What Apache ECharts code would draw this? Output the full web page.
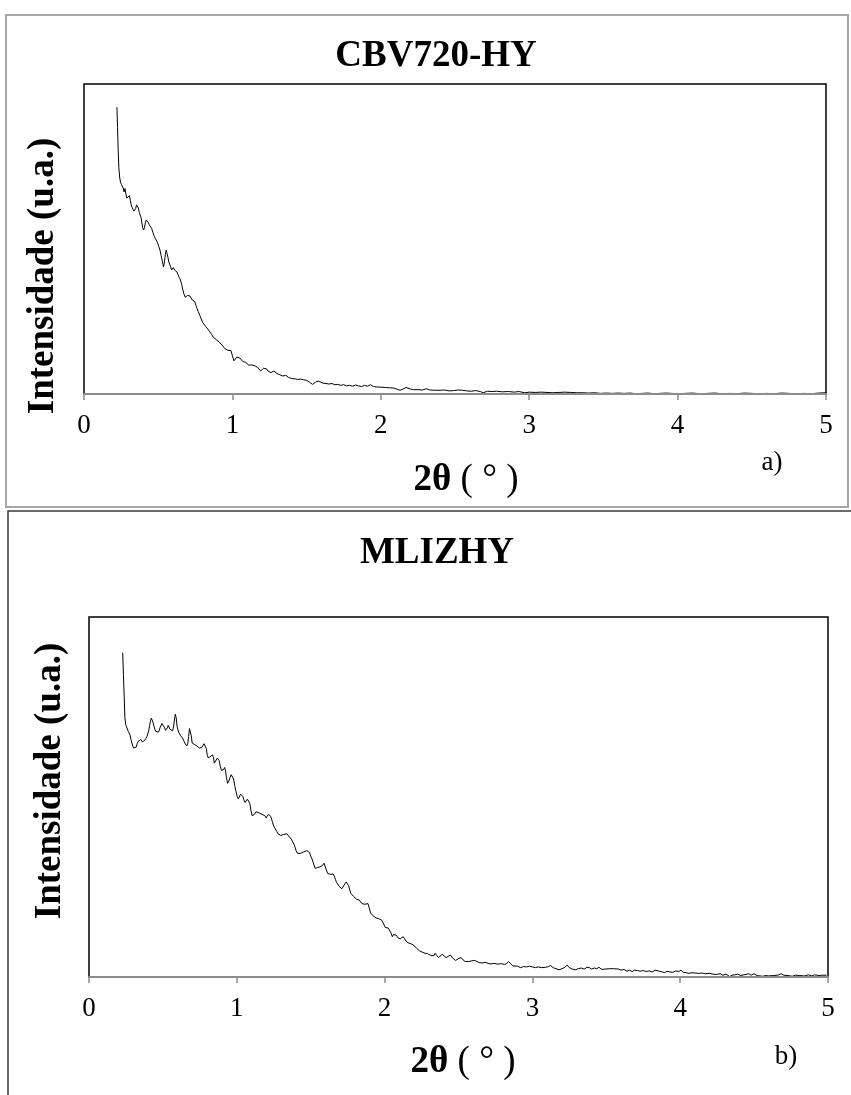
<!DOCTYPE html>
<html>
<head>
<meta charset="utf-8">
<title>DRX baixo ângulo</title>
<script src="https://cdn.jsdelivr.net/npm/echarts@6/dist/echarts.min.js"></script>
<style>
  html, body { margin: 0; padding: 0; background: #fff; }
  #chart { width: 851px; height: 1095px; }
</style>
</head>
<body>
<div id="chart"></div>
<script>
// Low-angle XRD scans: [2θ (°), intensity (a.u.)]
const scanCBV720 = [
  [0.222,92.5],[0.226,86],[0.230,79],[0.235,73],[0.240,70],[0.246,68.3],[0.252,67.6],[0.258,67.9],[0.264,66.4],[0.270,65.2],
  [0.276,66.3],[0.282,64.6],[0.288,63.2],[0.294,62.9],[0.300,63.5],[0.306,64.0],[0.312,62.5],[0.318,61.0],[0.324,60.2],[0.330,59.6],
  [0.336,59.0],[0.342,58.8],[0.348,59.8],[0.354,61.0],[0.360,61.2],[0.366,60.0],[0.372,58.6],[0.378,58.2],[0.384,57.0],[0.390,55.2],
  [0.396,53.6],[0.402,52.9],[0.408,53.8],[0.414,55.4],[0.420,56.1],[0.426,56.0],[0.432,55.4],[0.440,54.6],[0.448,54.0],[0.456,53.4],
  [0.464,52.2],[0.472,51.0],[0.480,50.2],[0.488,49.6],[0.496,48.8],[0.504,47.6],[0.512,46.4],[0.520,44.6],[0.528,42.8],[0.536,41.0],
  [0.542,42.6],[0.548,45.0],[0.554,46.4],[0.560,46.0],[0.566,44.0],[0.572,42.5],[0.578,42.2],[0.584,41.0],[0.590,40.0],[0.596,40.6],
  [0.602,40.8],[0.610,40.0],[0.618,39.8],[0.626,39.4],[0.634,38.4],[0.642,37.6],[0.650,36.8],[0.658,35.4],[0.666,33.6],[0.674,32.2],
  [0.682,31.2],[0.690,30.9],[0.698,31.8],[0.706,31.4],[0.714,31.6],[0.722,31.0],[0.730,30.3],[0.738,30.5],[0.746,29.8],[0.754,28.6],
  [0.762,27.6],[0.770,26.6],[0.780,25.4],[0.790,24.2],[0.800,23.0],[0.810,22.4],[0.820,21.8],[0.830,21.2],[0.840,20.6],[0.850,20.2],
  [0.860,19.2],[0.870,18.4],[0.880,17.8],[0.890,17.6],[0.900,17.2],[0.910,16.8],[0.920,16.6],[0.930,15.8],[0.940,15.2],[0.950,14.6],
  [0.960,14.3],[0.970,14.1],[0.980,14.6],[0.990,14.0],[1.000,12.4],[1.010,10.7],[1.020,11.0],[1.030,11.9],[1.040,11.8],[1.050,11.6],
  [1.060,11.0],[1.070,10.5],[1.080,10.7],[1.090,10.2],[1.100,9.6],[1.110,9.3],[1.120,9.0],[1.130,9.4],[1.140,9.6],[1.150,9.1],
  [1.160,8.8],[1.170,8.6],[1.180,8.0],[1.190,7.4],[1.200,7.8],[1.210,8.3],[1.220,8.5],[1.230,8.1],[1.240,7.4],[1.250,7.0],
  [1.260,6.9],[1.270,7.2],[1.280,7.4],[1.290,7.0],[1.300,6.6],[1.310,6.4],[1.320,6.2],[1.330,6.0],[1.340,5.8],[1.350,6.2],
  [1.360,6.0],[1.370,5.6],[1.380,5.3],[1.390,5.2],[1.400,5.0],[1.420,4.9],[1.440,4.7],[1.460,4.8],[1.480,4.6],[1.500,4.4],
  [1.520,3.8],[1.540,3.1],[1.560,3.8],[1.577,4.2],[1.590,3.8],[1.610,3.5],[1.630,3.4],[1.650,3.2],[1.670,3.4],[1.690,3.0],
  [1.710,3.1],[1.730,2.8],[1.750,3.0],[1.770,2.6],[1.790,2.8],[1.810,2.5],[1.830,2.9],[1.850,2.6],[1.870,2.4],[1.890,2.8],
  [1.910,2.5],[1.930,3.0],[1.950,2.4],[1.970,2.3],[2.000,2.2],[2.030,2.1],[2.060,2.0],[2.090,1.9],[2.110,1.5],[2.130,1.2],
  [2.150,1.6],[2.170,2.1],[2.180,2.4],[2.200,1.6],[2.220,1.4],[2.250,1.4],[2.280,1.3],[2.310,1.7],[2.330,1.3],[2.360,1.2],
  [2.400,1.2],[2.430,1.3],[2.460,1.0],[2.490,1.1],[2.520,1.3],[2.550,1.2],[2.580,1.0],[2.610,0.9],[2.640,1.1],[2.670,0.8],
  [2.690,0.4],[2.720,0.9],[2.750,0.8],[2.780,0.9],[2.820,0.7],[2.860,0.8],[2.900,0.6],[2.930,0.8],[2.970,0.4],[3.000,0.6],
  [3.040,0.5],[3.080,0.6],[3.120,0.5],[3.160,0.4],[3.200,0.5],[3.240,0.6],[3.280,0.5],[3.320,0.4],[3.360,0.4],[3.400,0.3],
  [3.440,0.4],[3.480,0.2],[3.520,0.3],[3.560,0.2],[3.600,0.3],[3.640,0.2],[3.680,0.3],[3.720,0.1],[3.760,0.2],[3.800,0.3],
  [3.840,0.1],[3.880,0.2],[3.920,0.3],[3.960,0.2],[4.000,0.1],[4.050,0.2],[4.100,0.3],[4.150,0.1],[4.200,0.2],[4.250,0.3],
  [4.300,0.1],[4.350,0.2],[4.400,0.1],[4.450,0.3],[4.500,0.2],[4.550,0.1],[4.600,0.2],[4.650,0.1],[4.700,0.3],[4.750,0.2],
  [4.800,0.1],[4.850,0.2],[4.900,0.1],[4.950,0.3],[5.000,0.4]
];

const scanMLIZHY = [
  [0.228,90.1],[0.233,84],[0.238,78],[0.243,72],[0.248,70.2],[0.254,69.5],[0.260,69.0],[0.266,68.2],[0.272,68.6],[0.278,67.2],
  [0.284,66.0],[0.290,65.0],[0.296,64.2],[0.302,63.6],[0.308,63.4],[0.314,63.5],[0.320,63.9],[0.326,64.8],[0.332,65.4],[0.338,65.1],
  [0.344,65.6],[0.350,66.0],[0.356,65.8],[0.362,65.3],[0.368,65.0],[0.374,65.4],[0.380,65.9],[0.386,66.3],[0.392,66.8],[0.398,67.3],
  [0.404,68.4],[0.410,69.8],[0.416,71.2],[0.422,71.9],[0.428,71.6],[0.434,70.6],[0.440,69.6],[0.446,68.8],[0.452,68.2],[0.458,68.0],
  [0.464,68.4],[0.470,68.0],[0.476,68.6],[0.482,69.4],[0.488,69.9],[0.494,70.4],[0.500,70.7],[0.506,70.2],[0.512,69.2],[0.518,68.5],
  [0.524,68.6],[0.530,69.2],[0.536,69.9],[0.542,69.6],[0.548,68.8],[0.554,68.5],[0.560,68.7],[0.566,68.4],[0.572,69.5],[0.578,71.4],
  [0.584,73.0],[0.590,72.0],[0.596,69.6],[0.602,68.6],[0.608,67.9],[0.614,67.4],[0.620,67.0],[0.626,66.6],[0.632,66.4],[0.638,66.0],
  [0.644,65.4],[0.650,64.8],[0.656,64.4],[0.662,64.2],[0.668,64.8],[0.674,66.8],[0.680,69.0],[0.686,69.4],[0.692,67.0],[0.698,65.0],
  [0.704,64.6],[0.710,64.8],[0.716,64.5],[0.722,64.4],[0.730,64.2],[0.738,64.0],[0.746,63.6],[0.754,63.5],[0.762,63.7],[0.770,64.2],
  [0.778,64.8],[0.786,65.0],[0.794,63.4],[0.800,61.6],[0.806,60.9],[0.812,60.6],[0.820,61.2],[0.828,61.0],[0.836,61.7],[0.842,61.0],
  [0.848,59.4],[0.854,59.2],[0.860,59.8],[0.868,60.8],[0.874,61.2],[0.880,60.2],[0.888,58.6],[0.896,57.4],[0.902,57.1],[0.910,57.6],
  [0.918,58.2],[0.924,57.2],[0.930,55.4],[0.938,53.8],[0.946,54.4],[0.954,55.4],[0.962,56.2],[0.970,56.1],[0.978,55.0],[0.986,53.2],
  [0.994,51.6],[1.002,50.2],[1.010,49.5],[1.018,49.8],[1.026,50.8],[1.032,51.0],[1.040,50.2],[1.048,49.2],[1.056,48.5],[1.064,48.8],
  [1.072,49.4],[1.080,49.5],[1.088,48.2],[1.096,46.2],[1.104,44.8],[1.112,44.6],[1.120,45.2],[1.130,45.9],[1.140,45.9],[1.150,45.6],
  [1.160,45.4],[1.170,45.2],[1.180,45.4],[1.190,44.8],[1.198,44.2],[1.206,44.4],[1.214,45.2],[1.222,45.4],[1.230,44.6],[1.240,43.2],
  [1.250,41.9],[1.260,41.2],[1.270,40.4],[1.278,39.8],[1.288,39.5],[1.298,39.3],[1.308,39.4],[1.318,39.6],[1.330,39.8],[1.340,39.8],
  [1.350,39.2],[1.360,38.8],[1.370,38.2],[1.380,37.8],[1.390,36.6],[1.400,35.2],[1.410,34.4],[1.418,34.2],[1.428,34.3],[1.440,34.5],
  [1.450,34.7],[1.462,34.9],[1.474,35.1],[1.484,35.2],[1.492,34.6],[1.500,33.6],[1.510,32.7],[1.520,31.4],[1.530,30.2],[1.538,30.1],
  [1.546,30.4],[1.556,30.5],[1.564,30.6],[1.572,30.4],[1.580,31.0],[1.590,31.6],[1.598,31.2],[1.606,29.8],[1.614,28.8],[1.622,28.6],
  [1.632,28.5],[1.642,28.6],[1.652,28.6],[1.660,28.0],[1.668,27.0],[1.676,26.2],[1.684,25.8],[1.692,25.2],[1.700,24.8],[1.711,24.5],
  [1.720,25.0],[1.730,25.8],[1.740,26.4],[1.748,26.5],[1.756,25.4],[1.764,24.2],[1.772,23.2],[1.780,22.8],[1.790,22.4],[1.800,21.9],
  [1.810,21.6],[1.820,21.6],[1.828,21.4],[1.836,21.0],[1.846,20.4],[1.857,19.9],[1.866,20.2],[1.876,20.4],[1.887,20.4],[1.896,19.2],
  [1.905,17.8],[1.913,17.3],[1.922,17.0],[1.932,16.8],[1.942,16.4],[1.950,16.3],[1.960,16.2],[1.970,16.0],[1.980,15.8],[1.990,15.0],
  [2.004,13.8],[2.014,14.2],[2.024,13.6],[2.034,13.3],[2.044,12.2],[2.052,11.2],[2.060,11.8],[2.070,12.2],[2.080,11.6],[2.090,10.9],
  [2.096,10.7],[2.106,10.6],[2.116,10.9],[2.126,11.2],[2.136,10.6],[2.144,10.0],[2.150,9.7],[2.160,9.5],[2.170,9.3],[2.180,9.2],
  [2.188,9.2],[2.198,8.8],[2.208,8.4],[2.218,7.9],[2.225,7.7],[2.235,7.3],[2.245,7.0],[2.260,6.8],[2.275,6.6],[2.290,6.5],
  [2.300,6.4],[2.312,6.0],[2.324,5.6],[2.333,5.9],[2.342,6.6],[2.352,6.0],[2.364,5.4],[2.376,5.7],[2.390,6.3],[2.402,5.9],
  [2.416,5.4],[2.430,5.7],[2.445,6.1],[2.460,5.3],[2.470,4.8],[2.480,4.6],[2.490,4.9],[2.504,5.2],[2.518,5.4],[2.530,4.8],
  [2.545,4.3],[2.555,4.1],[2.570,4.3],[2.590,4.5],[2.610,4.6],[2.625,4.3],[2.640,4.0],[2.665,3.9],[2.680,4.1],[2.700,3.8],
  [2.720,3.6],[2.740,3.8],[2.760,3.6],[2.775,3.6],[2.790,3.7],[2.810,3.5],[2.825,3.7],[2.838,4.3],[2.850,3.8],[2.867,3.1],
  [2.880,3.3],[2.900,3.0],[2.920,2.6],[2.940,2.9],[2.960,2.8],[2.980,3.0],[3.000,2.8],[3.020,2.6],[3.040,2.8],[3.060,2.6],
  [3.070,2.6],[3.090,2.7],[3.110,2.9],[3.124,3.2],[3.140,2.6],[3.160,2.3],[3.180,2.0],[3.200,2.3],[3.220,2.7],[3.234,3.3],
  [3.250,2.6],[3.270,2.2],[3.290,2.0],[3.310,2.3],[3.330,2.5],[3.350,2.2],[3.370,2.7],[3.385,2.6],[3.400,2.2],[3.420,2.5],
  [3.436,2.3],[3.450,2.7],[3.470,2.1],[3.490,2.2],[3.520,2.3],[3.550,2.3],[3.583,2.2],[3.600,1.9],[3.620,2.1],[3.640,1.6],
  [3.656,1.9],[3.675,1.5],[3.690,1.9],[3.710,1.8],[3.730,1.6],[3.750,1.8],[3.770,1.5],[3.790,1.7],[3.810,1.4],[3.830,1.9],
  [3.840,2.2],[3.860,1.6],[3.880,1.4],[3.895,1.2],[3.910,1.6],[3.930,1.4],[3.950,1.3],[3.970,1.7],[3.990,1.5],[4.005,1.9],
  [4.020,1.3],[4.040,1.2],[4.060,1.0],[4.080,1.2],[4.100,1.1],[4.130,1.0],[4.150,1.1],[4.170,0.9],[4.200,1.0],[4.220,0.8],
  [4.244,0.7],[4.270,0.9],[4.290,0.5],[4.310,0.8],[4.335,0.1],[4.350,0.5],[4.370,0.6],[4.390,0.8],[4.410,0.4],[4.430,0.6],
  [4.464,0.9],[4.480,0.5],[4.500,0.9],[4.520,0.4],[4.556,0.2],[4.580,0.4],[4.600,0.3],[4.630,0.4],[4.660,0.5],[4.684,0.9],
  [4.700,0.5],[4.730,0.4],[4.758,0.2],[4.780,0.5],[4.810,0.4],[4.840,0.3],[4.868,0.6],[4.890,0.3],[4.910,0.6],[4.940,0.4],
  [4.960,0.5],[4.990,0.5]
];

const panelTitles = ['CBV720-HY', 'MLIZHY'];
const panelTags = ['a)', 'b)'];
const yAxisTitle = 'Intensidade (u.a.)';
const xTickRange = { min: 0, max: 5, step: 1 };

const serif = 'Liberation Serif, Times New Roman, serif';

function xAxisFor(gridIndex) {
  return {
    type: 'value',
    gridIndex,
    min: xTickRange.min,
    max: xTickRange.max,
    interval: xTickRange.step,
    z: 5,
    axisLine: { show: true, lineStyle: { color: '#8c8c8c', width: 2 } },
    axisTick: { show: true, length: 6, lineStyle: { color: '#8c8c8c', width: 1.5 } },
    axisLabel: { color: '#000', fontFamily: serif, fontSize: 27, margin: 18 },
    splitLine: { show: false }
  };
}

function yAxisFor(gridIndex) {
  return {
    type: 'value',
    gridIndex,
    min: 0,
    max: 100,
    axisLine: { show: false },
    axisTick: { show: false },
    axisLabel: { show: false },
    splitLine: { show: false }
  };
}

function lineSeries(idx, data) {
  return {
    type: 'line',
    xAxisIndex: idx,
    yAxisIndex: idx,
    data,
    showSymbol: false,
    symbol: 'none',
    smooth: false,
    lineStyle: { color: '#000', width: 1 },
    z: 3
  };
}

function label(text, x, y, opts) {
  return Object.assign({
    type: 'text',
    x, y,
    style: Object.assign({
      text,
      fill: '#000',
      fontFamily: serif,
      align: 'center',
      verticalAlign: 'middle'
    }, opts.style || {})
  }, opts.props || {});
}

function xName(x, y) {
  return {
    type: 'text',
    x, y,
    style: {
      text: '{b|2θ }{n|( ° )}',
      align: 'center',
      verticalAlign: 'middle',
      rich: {
        b: { fontFamily: serif, fontWeight: 'bold', fontSize: 37, fill: '#000' },
        n: { fontFamily: serif, fontWeight: 'normal', fontSize: 37, fill: '#000' }
      }
    }
  };
}

const chart = echarts.init(document.getElementById('chart'), null, { renderer: 'canvas' });

chart.setOption({
  animation: false,
  backgroundColor: '#fff',
  grid: [
    { left: 84, top: 84, width: 742, height: 310, show: true, borderColor: '#000', borderWidth: 1.5, backgroundColor: 'transparent' },
    { left: 89, top: 617, width: 739, height: 360, show: true, borderColor: '#000', borderWidth: 1.5, backgroundColor: 'transparent' }
  ],
  xAxis: [xAxisFor(0), xAxisFor(1)],
  yAxis: [yAxisFor(0), yAxisFor(1)],
  series: [lineSeries(0, scanCBV720), lineSeries(1, scanMLIZHY)],
  graphic: [
    // panel frames
    { type: 'rect', shape: { x: 6, y: 15, width: 842, height: 492 },
      style: { fill: 'none', stroke: '#a6a6a6', lineWidth: 2 }, z: 1 },
    { type: 'rect', shape: { x: 8, y: 511, width: 900, height: 700 },
      style: { fill: 'none', stroke: '#3a3a3a', lineWidth: 1.5 }, z: 1 },

    // panel a
    label(panelTitles[0], 436, 56, { style: { fontSize: 37, fontWeight: 'bold' } }),
    label(yAxisTitle, 43, 276, { style: { fontSize: 37, fontWeight: 'bold' }, props: { rotation: Math.PI / 2 } }),
    xName(466, 480),
    label(panelTags[0], 772, 463, { style: { fontSize: 27 } }),

    // panel b
    label(panelTitles[1], 437, 553, { style: { fontSize: 37, fontWeight: 'bold' } }),
    label(yAxisTitle, 50, 781, { style: { fontSize: 37, fontWeight: 'bold' }, props: { rotation: Math.PI / 2 } }),
    xName(463, 1062),
    label(panelTags[1], 786, 1057, { style: { fontSize: 27 } })
  ]
});
</script>
</body>
</html>
